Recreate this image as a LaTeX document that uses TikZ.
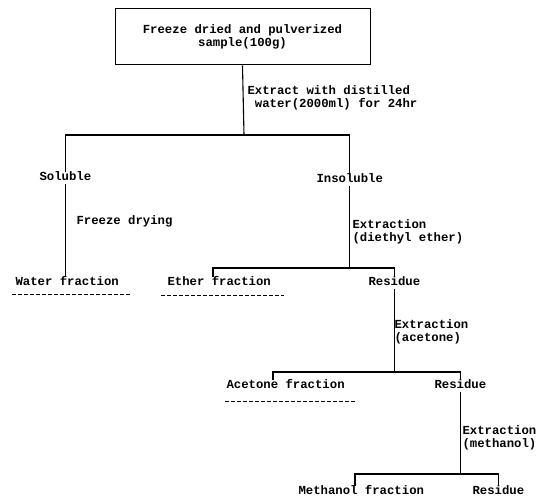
\documentclass[tikz,border=0pt]{standalone}
\usepackage{fontspec}
\setmonofont{Liberation Mono}
\tikzset{
  lbl/.style={anchor=west, inner sep=1pt, text height=7pt, text depth=2pt,
    font=\ttfamily\bfseries\fontsize{12.3}{13}\selectfont},
  note/.style={anchor=west, inner sep=1pt, align=left,
    font=\ttfamily\bfseries\fontsize{12.3}{13}\selectfont},
  samplebox/.style={draw, line width=1pt, minimum width=255pt, minimum height=56pt,
    align=center, font=\ttfamily\bfseries\fontsize{12.3}{13}\selectfont},
  under/.style={dash pattern=on 4pt off 2pt, line width=0.7pt}
}

\begin{document}
\begin{tikzpicture}[x=1pt, y=-1pt, line width=1.1pt]
  \useasboundingbox (0,0) rectangle (545,500);
  % nodes
  \node[samplebox] (sample) at (242.5,37) {Freeze dried and pulverized\\sample(100g)};
  \node[note, font=\ttfamily\bfseries\fontsize{12.3}{12.5}\selectfont] (ext1) at (246,98)
    {Extract with distilled\\\ water(2000ml) for 24hr};
  \node[lbl] (sol) at (38,178) {Soluble};
  \node[lbl] (insol) at (315,180) {Insoluble};
  \node[lbl] (dry) at (75,222) {Freeze drying};
  \node[note] (ext2) at (351,232) {Extraction\\(diethyl ether)};
  \node[lbl] (wat) at (14,283) {Water fraction};
  \node[lbl] (eth) at (166,283) {Ether fraction};
  \node[lbl] (res1) at (367,283) {Residue};
  \node[note] (ext3) at (393,332) {Extraction\\(acetone)};
  \node[lbl] (acet) at (225,386) {Acetone fraction};
  \node[lbl] (res2) at (433,386) {Residue};
  \node[note] (ext4) at (461,438) {Extraction\\(methanol)};
  \node[lbl] (meth) at (297,492) {Methanol fraction};
  \node[lbl] (res3) at (471,492) {Residue};
  % junctions
  \coordinate (j1) at (244,135);
  \coordinate (k2) at (213,268);
  \coordinate (k3) at (273,372);
  \coordinate (k4) at (355,474);
  % lines
  \draw (sample.south) -- (j1);
  \draw (sol) |- (j1) -| (insol);
  \draw (sol) -- (sol |- wat.north);
  \draw (insol) -- (insol |- k2);
  \draw (k2 |- eth.north) -- (k2) -| (res1);
  \draw (res1) -- (res1 |- k3);
  \draw (k3 |- acet.north) -- (k3) -| (res2);
  \draw (res2) -- (res2 |- k4);
  \draw (k4 |- meth.north) -- (k4) -| (res3);
  % underlines
  \draw[under] ([shift={(-2pt,-5pt)}]wat.south west) -- ([shift={(10pt,-5pt)}]wat.south east);
  \draw[under] ([shift={(-5pt,-6pt)}]eth.south west) -- ([shift={(12pt,-6pt)}]eth.south east);
  \draw[under] ([shift={(0pt,-9pt)}]acet.south west) -- ([shift={(10pt,-9pt)}]acet.south east);
\end{tikzpicture}
\end{document}
